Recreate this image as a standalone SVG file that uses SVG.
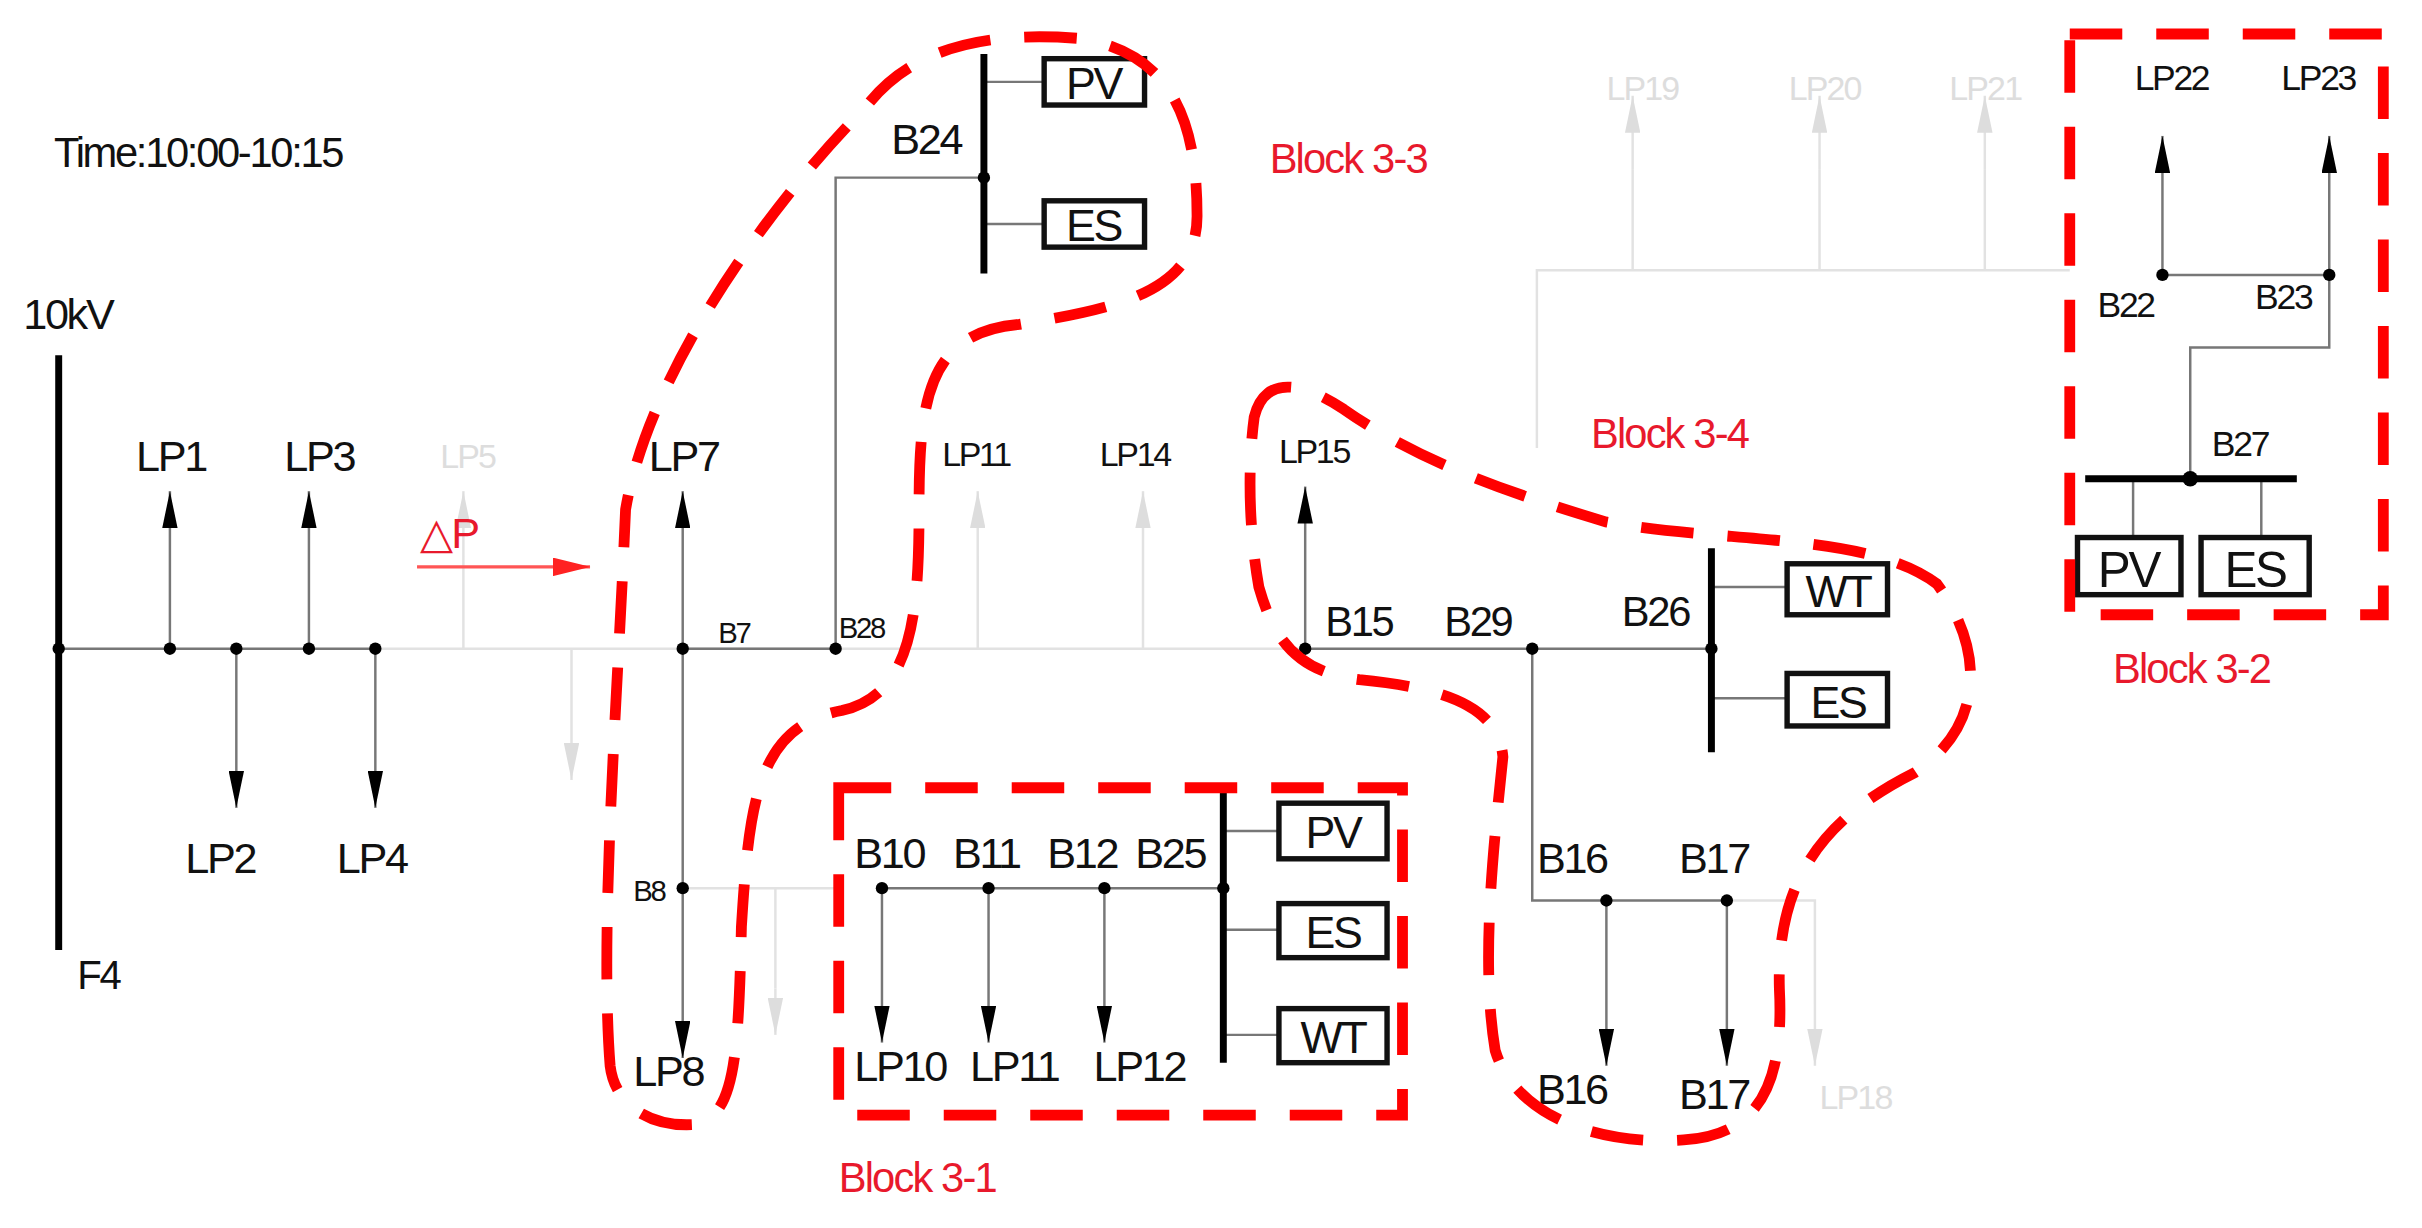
<svg xmlns="http://www.w3.org/2000/svg" width="2422" height="1228" viewBox="0 0 2422 1228">
<style>
.t{font-family:"Liberation Sans",Arial,sans-serif;fill:#111;letter-spacing:-1.5px}
.r{font-family:"Liberation Sans",Arial,sans-serif;fill:#e8192c;letter-spacing:-1.2px}
.f{font-family:"Liberation Sans",Arial,sans-serif;fill:#ddd;letter-spacing:-1.2px}
.ln{stroke:#777;stroke-width:1.6;fill:none}
.fl{stroke:#e2e2e2;stroke-width:1.6;fill:none}
.bus{stroke:#000;stroke-width:4.5}
.box{fill:#fff;stroke:#111;stroke-width:3.5}
.dash{fill:none;stroke:#f00;stroke-width:7;stroke-dasharray:34 22}
</style>
<defs>
<marker id="a" viewBox="0 0 24 10" refX="24" refY="5" markerWidth="24" markerHeight="10" markerUnits="userSpaceOnUse" orient="auto"><path d="M0,0 L24,5 L0,10z" fill="#000"/></marker>
<marker id="ag" viewBox="0 0 24 10" refX="24" refY="5" markerWidth="24" markerHeight="10" markerUnits="userSpaceOnUse" orient="auto"><path d="M0,0 L24,5 L0,10z" fill="#ddd"/></marker>
<marker id="ar" viewBox="0 0 24 12" refX="24" refY="6" markerWidth="24" markerHeight="12" markerUnits="userSpaceOnUse" orient="auto"><path d="M0,0 L24,6 L0,12z" fill="#f22"/></marker>
</defs>
<rect width="2422" height="1228" fill="#fff"/>
<g transform="scale(1.5446)">
<g id="connectors">
<path class="fl" d="M243 420H845 M370 420V470 M442 575H540 M502 575V640 M540 420H845 M1118 583H1175V650 M995 290V175H1340 M1057 175V110 M1178 175V110 M1285 175V110 M300 420V360 M633 420V360 M740 420V360"/>
<path class="fl" d="M1175 650V690" marker-end="url(#ag)"/>
<path class="fl" d="M370 470V505" marker-end="url(#ag)"/>
<path class="fl" d="M502 640V670" marker-end="url(#ag)"/>
<path class="fl" d="M300 360V318" marker-end="url(#ag)"/>
<path class="fl" d="M633 360V318" marker-end="url(#ag)"/>
<path class="fl" d="M740 360V318" marker-end="url(#ag)"/>
<path class="fl" d="M1057 110V62" marker-end="url(#ag)"/>
<path class="fl" d="M1178 110V62" marker-end="url(#ag)"/>
<path class="fl" d="M1285 110V62" marker-end="url(#ag)"/>
<path class="ln" d="M38 420H243"/>
<path class="ln" d="M110 420V318" marker-end="url(#a)"/>
<path class="ln" d="M200 420V318" marker-end="url(#a)"/>
<path class="ln" d="M153 420V523" marker-end="url(#a)"/>
<path class="ln" d="M243 420V523" marker-end="url(#a)"/>
<path class="ln" d="M442 420V318" marker-end="url(#a)"/>
<path class="ln" d="M442 420V685" marker-end="url(#a)"/>
<path class="ln" d="M442 420H541V115H637"/>
<path class="ln" d="M637 53H676 M637 145H676"/>
<path class="ln" d="M571 575H792 M792 538H828 M792 602H828 M792 670H828"/>
<path class="ln" d="M571 575V675" marker-end="url(#a)"/>
<path class="ln" d="M640 575V675" marker-end="url(#a)"/>
<path class="ln" d="M715 575V675" marker-end="url(#a)"/>
<path class="ln" d="M845 420V315" marker-end="url(#a)"/>
<path class="ln" d="M845 420H1108 M1108 380H1157 M1108 452H1157 M992 420V583H1118"/>
<path class="ln" d="M1040 583V690" marker-end="url(#a)"/>
<path class="ln" d="M1118 583V690" marker-end="url(#a)"/>
<path class="ln" d="M1400 178V88" marker-end="url(#a)"/>
<path class="ln" d="M1508 178V88" marker-end="url(#a)"/>
<path class="ln" d="M1400 178H1508V225H1418V310 M1381 310V348 M1464 310V348"/>
<path d="M270 367H382" stroke="#f55" stroke-width="2" marker-end="url(#ar)"/>
<g fill="#000">
<circle cx="38" cy="420" r="4"/><circle cx="110" cy="420" r="4"/><circle cx="153" cy="420" r="4"/><circle cx="200" cy="420" r="4"/><circle cx="243" cy="420" r="4"/>
<circle cx="442" cy="420" r="4"/><circle cx="541" cy="420" r="4"/><circle cx="637" cy="115" r="4"/><circle cx="442" cy="575" r="4"/>
<circle cx="571" cy="575" r="4"/><circle cx="640" cy="575" r="4"/><circle cx="715" cy="575" r="4"/><circle cx="792" cy="575" r="4"/>
<circle cx="845" cy="420" r="4"/><circle cx="992" cy="420" r="4"/><circle cx="1108" cy="420" r="4"/><circle cx="1040" cy="583" r="4"/><circle cx="1118" cy="583" r="4"/>
<circle cx="1400" cy="178" r="4"/><circle cx="1508" cy="178" r="4"/><circle cx="1418" cy="310" r="5"/>
</g>
</g>
<g id="F4"><line class="bus" x1="38" y1="230" x2="38" y2="615"/><text class="t" x="15" y="213" font-size="28">10kV</text><text class="t" x="50" y="640" font-size="26">F4</text></g>
<g id="B24"><line class="bus" x1="637" y1="35" x2="637" y2="177"/><text class="t" x="577" y="100" font-size="28">B24</text>
<rect class="box" x="676" y="38" width="65" height="30"/><text class="t" x="708" y="64" font-size="29" text-anchor="middle">PV</text>
<rect class="box" x="676" y="130" width="65" height="30"/><text class="t" x="708" y="156" font-size="29" text-anchor="middle">ES</text></g>
<g id="B25"><line class="bus" x1="792" y1="510" x2="792" y2="688"/>
<rect class="box" x="828" y="520" width="70" height="36"/><text class="t" x="863" y="549" font-size="29" text-anchor="middle">PV</text>
<rect class="box" x="828" y="585" width="70" height="35"/><text class="t" x="863" y="614" font-size="29" text-anchor="middle">ES</text>
<rect class="box" x="828" y="653" width="70" height="35"/><text class="t" x="863" y="682" font-size="29" text-anchor="middle">WT</text></g>
<g id="B26"><line class="bus" x1="1108" y1="355" x2="1108" y2="487"/><text class="t" x="1050" y="405" font-size="27">B26</text>
<rect class="box" x="1157" y="365" width="65" height="33"/><text class="t" x="1190" y="393" font-size="29" text-anchor="middle">WT</text>
<rect class="box" x="1157" y="436" width="65" height="34"/><text class="t" x="1190" y="465" font-size="29" text-anchor="middle">ES</text></g>
<g id="B27"><line class="bus" x1="1350" y1="310" x2="1487" y2="310"/><text class="t" x="1432" y="295" font-size="23">B27</text>
<rect class="box" x="1345" y="348" width="67" height="37"/><text class="t" x="1378" y="380" font-size="32" text-anchor="middle">PV</text>
<rect class="box" x="1425" y="348" width="70" height="37"/><text class="t" x="1460" y="380" font-size="32" text-anchor="middle">ES</text></g>
<g id="labels">
<text class="t" x="35" y="108" font-size="27">Time:10:00-10:15</text>
<text class="t" x="88" y="305" font-size="28">LP1</text><text class="t" x="184" y="305" font-size="28">LP3</text><text class="f" x="285" y="303" font-size="22">LP5</text>
<text class="t" x="420" y="305" font-size="28">LP7</text><text class="t" x="610" y="302" font-size="22" fill="#333">LP11</text><text class="t" x="712" y="302" font-size="22" fill="#333">LP14</text><text class="t" x="828" y="300" font-size="22">LP15</text>
<text class="t" x="120" y="565" font-size="28">LP2</text><text class="t" x="218" y="565" font-size="28">LP4</text>
<text class="r" x="272" y="355" font-size="28">△P</text>
<text class="t" x="465" y="416" font-size="19">B7</text><text class="t" x="543" y="413" font-size="19">B28</text><text class="t" x="410" y="583" font-size="19">B8</text>
<text class="t" x="410" y="703" font-size="28">LP8</text>
<text class="t" x="553" y="562" font-size="28">B10</text><text class="t" x="617" y="562" font-size="28">B11</text><text class="t" x="678" y="562" font-size="28">B12</text><text class="t" x="735" y="562" font-size="28">B25</text>
<text class="t" x="553" y="700" font-size="28">LP10</text><text class="t" x="628" y="700" font-size="28">LP11</text><text class="t" x="708" y="700" font-size="28">LP12</text>
<text class="t" x="858" y="412" font-size="27">B15</text><text class="t" x="935" y="412" font-size="27">B29</text>
<text class="t" x="995" y="565" font-size="28">B16</text><text class="t" x="1087" y="565" font-size="28">B17</text>
<text class="t" x="995" y="715" font-size="28">B16</text><text class="t" x="1087" y="718" font-size="28">B17</text>
<text class="f" x="1178" y="718" font-size="22">LP18</text>
<text class="f" x="1040" y="65" font-size="22">LP19</text><text class="f" x="1158" y="65" font-size="22">LP20</text><text class="f" x="1262" y="65" font-size="22">LP21</text>
<text class="t" x="1382" y="58" font-size="23">LP22</text><text class="t" x="1477" y="58" font-size="23">LP23</text>
<text class="t" x="1358" y="205" font-size="23">B22</text><text class="t" x="1460" y="200" font-size="23">B23</text>
<text class="r" x="822" y="112" font-size="27">Block 3-3</text><text class="r" x="1030" y="290" font-size="27">Block 3-4</text>
<text class="r" x="1368" y="442" font-size="27">Block 3-2</text><text class="r" x="543" y="772" font-size="27">Block 3-1</text>
</g>
<g id="blocks">
<rect class="dash" x="543" y="510" width="365" height="212"/>
<rect class="dash" x="1340" y="22" width="203" height="376"/>
<path class="dash" d="M395 690 C388 600 400 450 405 330 C420 240 500 130 560 70 C590 30 640 20 700 25 C760 35 775 80 775 140 C775 190 720 200 660 210 C600 215 595 260 595 330 C595 400 590 450 545 460 C490 470 485 520 480 600 C478 690 475 722 450 728 C420 730 398 715 395 690Z"/>
<path class="dash" d="M812 270 C818 245 840 245 870 265 C920 300 980 320 1040 338 C1120 352 1210 345 1254 378 C1285 420 1285 470 1240 500 C1180 530 1150 570 1152 640 C1155 700 1140 735 1090 738 C1030 742 980 720 968 680 C958 620 968 540 973 490 C970 455 930 445 880 440 C840 435 825 415 815 380 C808 340 808 300 812 270Z"/>
</g>
</g>
</svg>
